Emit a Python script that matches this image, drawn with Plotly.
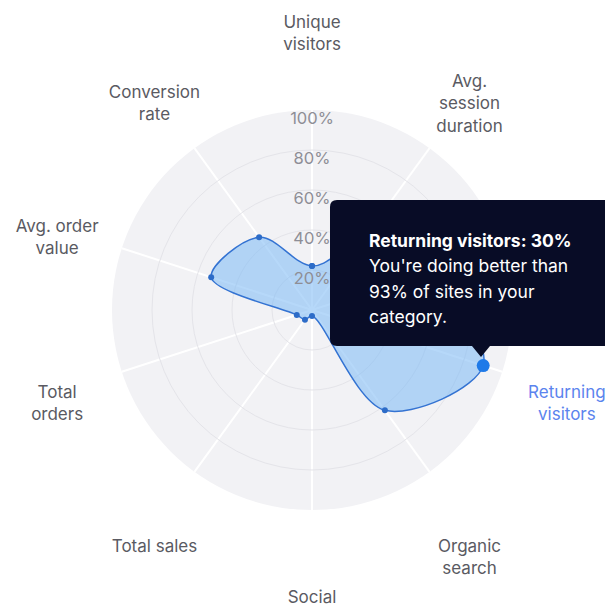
import math
import plotly.graph_objects as go

# ---------------- data ----------------
categories = ["Unique<br>visitors", "Avg.<br>session<br>duration", "",
              "Returning<br>visitors", "Organic<br>search", "Social",
              "Total sales", "Total<br>orders", "Avg. order<br>value",
              "Conversion<br>rate"]
values = [22, 40, 60, 90, 62, 3, 6, 8, 53, 45]
highlight_index = 3
radial_ticks = [20, 40, 60, 80, 100]
radial_tick_labels = ["20%", "40%", "60%", "80%", "100%"]
tooltip_lines = ["<b>Returning visitors: 30%</b>",
                 "You're doing better than",
                 "93% of sites in your",
                 "category."]

# ---------------- styling ----------------
PAGE_OFF = 8                     # default body margin of the html page
W, H = 613 - PAGE_OFF, 608 - PAGE_OFF
FONT = "Inter"
CX, CY, R = 312, 310, 200        # chart disk (page pixels)
LCX, LCY, LR = 312, 322, 268     # ring on which category labels sit
LABEL_GREY = "#5a5a62"
HILITE = "#5b84ee"


def px(x, y):
    """page pixel -> paper fraction"""
    return (x - PAGE_OFF) / W, 1 - (y - PAGE_OFF) / H


def domain(cx, cy, r):
    xa, ya = px(cx - r, cy + r)
    xb, yb = px(cx + r, cy - r)
    return dict(x=[xa, xb], y=[ya, yb])


step = 360 / len(categories)
theta = [i * step for i in range(len(categories))]

label_text, label_pos = [], []
for i, c in enumerate(categories):
    if i == highlight_index:
        label_text.append(f'<span style="color:{HILITE}">{c}</span>')
    else:
        label_text.append(c)
    cos_a = math.cos(math.radians(theta[i]))
    if cos_a > 0.9:
        label_pos.append("top center")
    elif cos_a < -0.5:
        label_pos.append("bottom center")
    else:
        label_pos.append("middle center")

fig = go.Figure()

# filled spline shape
fig.add_trace(go.Scatterpolar(
    r=values + [values[0]],
    theta=theta + [theta[0]],
    mode="lines+markers",
    line=dict(color="#3473d2", width=1.5, shape="spline", smoothing=1.0),
    marker=dict(size=6, color="#2d6cc8"),
    fill="toself",
    fillcolor="rgba(130,188,244,0.58)",
    hoverinfo="skip",
    showlegend=False,
))

# highlighted point
fig.add_trace(go.Scatterpolar(
    r=[values[highlight_index]],
    theta=[theta[highlight_index]],
    mode="markers",
    marker=dict(size=13, color="#1f7ae8"),
    hoverinfo="skip",
    showlegend=False,
))

# radial tick labels along the top spoke
fig.add_trace(go.Scatterpolar(
    r=[t - 5 for t in radial_ticks],
    theta=[theta[0]] * len(radial_ticks),
    mode="text",
    text=radial_tick_labels,
    textfont=dict(family=FONT, size=16.5, color="#8e8e96"),
    hoverinfo="skip",
    showlegend=False,
))

# category labels on an invisible outer polar ring
fig.add_trace(go.Scatterpolar(
    subplot="polar2",
    r=[100] * len(categories),
    theta=theta,
    mode="text",
    text=label_text,
    textposition=label_pos,
    textfont=dict(family=FONT, size=17, color=LABEL_GREY),
    cliponaxis=False,
    hoverinfo="skip",
    showlegend=False,
))

fig.update_layout(
    width=W, height=H,
    margin=dict(l=0, r=0, t=0, b=0),
    paper_bgcolor="white",
    font=dict(family=FONT, size=15, color=LABEL_GREY),
    polar=dict(
        domain=domain(CX, CY, R),
        bgcolor="#f2f2f5",
        radialaxis=dict(range=[0, 100], tickvals=radial_ticks,
                        showticklabels=False, ticks="",
                        gridcolor="#e4e4e9", gridwidth=1.3,
                        showline=False),
        angularaxis=dict(rotation=90, direction="clockwise",
                         tickvals=theta, showticklabels=False, ticks="",
                         gridcolor="white", gridwidth=2,
                         showline=False),
    ),
    polar2=dict(
        domain=domain(LCX, LCY, LR),
        bgcolor="rgba(0,0,0,0)",
        radialaxis=dict(range=[0, 100], visible=False),
        angularaxis=dict(rotation=90, direction="clockwise",
                         visible=False),
    ),
)

# tooltip overlay
x0, y0, x1, y1, rr = 330, 200, 640, 346, 7
tipx, tipy, tw = 481, 357, 9
pts = [
    ("M", px(x0 + rr, y0)), ("L", px(x1, y0)), ("L", px(x1, y1)),
    ("L", px(tipx + tw, y1)), ("L", px(tipx, tipy)), ("L", px(tipx - tw, y1)),
    ("L", px(x0 + rr, y1)), ("Q", px(x0, y1) + px(x0, y1 - rr)),
    ("L", px(x0, y0 + rr)), ("Q", px(x0, y0) + px(x0 + rr, y0)),
]
path = " ".join(f"{c} " + " ".join(f"{v:.5f}" for v in p) for c, p in pts) + " Z"
fig.add_shape(type="path", path=path, xref="paper", yref="paper",
              fillcolor="#080c26", line=dict(width=0), layer="above")

for i, line in enumerate(tooltip_lines):
    fx, fy = px(367, 240 + 25.5 * i)
    fig.add_annotation(x=fx, y=fy, xref="paper", yref="paper",
                       text=line, showarrow=False, xanchor="left",
                       yanchor="middle", align="left",
                       font=dict(family=FONT, size=17.5, color="white"))

fig.write_html("out.html")
